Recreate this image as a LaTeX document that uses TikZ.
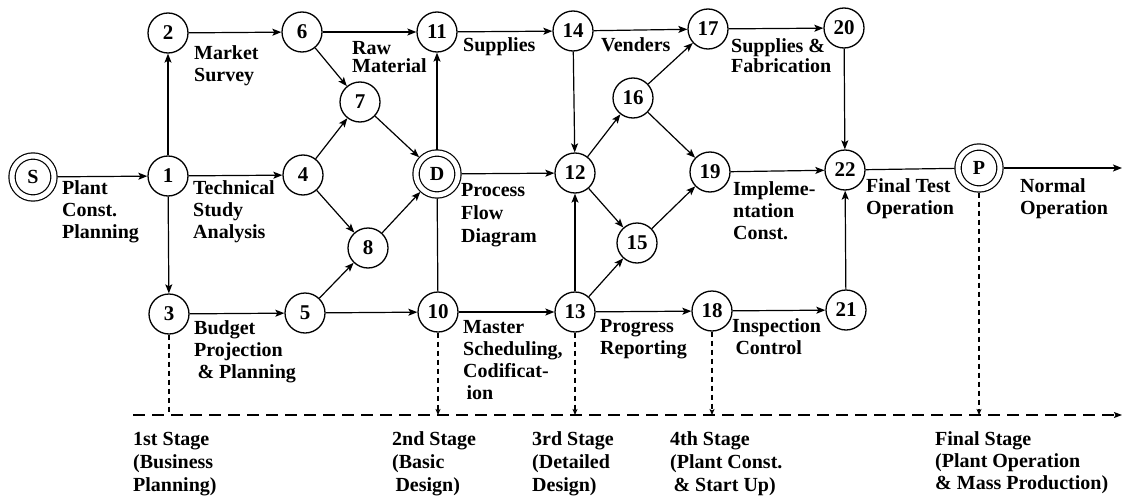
\documentclass[tikz,border=0pt]{standalone}
\usepackage{fontspec}
\setmainfont{Liberation Serif}
\usetikzlibrary{arrows.meta}
\newcommand{\topstrut}{\rule{0pt}{15pt}}
\begin{document}
\begin{tikzpicture}[x=1pt,y=-1pt,
  every node/.style={font=\fontsize{20}{22}\selectfont\bfseries},
  ev/.style={circle,draw,line width=1.3pt,minimum size=40pt,inner sep=0pt,font=\fontsize{21}{22}\selectfont\bfseries},
  dbl/.style={circle,draw,line width=1.2pt,double,double distance=5pt,minimum size=42pt,inner sep=0pt,outer sep=3.5pt},
  lbl/.style={anchor=north west,inner sep=0pt,align=left},
  tight/.style={font=\fontsize{20}{18}\selectfont\bfseries},
  mid/.style={font=\fontsize{20}{20}\selectfont\bfseries},
  wide/.style={font=\fontsize{20}{23}\selectfont\bfseries},
  ar/.style={line width=1.2pt,-{Stealth[length=9pt,width=7pt,inset=2pt]}},
  ln/.style={line width=1.2pt},
  vd/.style={line width=1.1pt,dash pattern=on 5pt off 4pt,-{Stealth[length=6pt,width=5pt,inset=1.5pt]}},
  vdn/.style={line width=1.1pt,dash pattern=on 5pt off 4pt},
  hd/.style={line width=1.1pt,dash pattern=on 12pt off 7pt,-{Stealth[length=8pt,width=6pt,inset=1.5pt]}}
]
\useasboundingbox (0,0) rectangle (1134,495);

% events
\node[dbl] (S) at (33,177) {S};
\node[ev] (n1) at (168,176) {1};
\node[ev] (n2) at (168,33) {2};
\node[ev] (n3) at (169,314) {3};
\node[ev] (n4) at (303,175) {4};
\node[ev] (n5) at (305,313) {5};
\node[ev] (n6) at (302,32) {6};
\node[ev] (n7) at (360,102) {7};
\node[ev] (n8) at (368,248) {8};
\node[dbl] (D) at (437,174) {D};
\node[ev] (n11) at (437,32) {11};
\node[ev] (n10) at (438,312) {10};
\node[ev] (n14) at (573,31) {14};
\node[ev] (n12) at (575,173) {12};
\node[ev] (n13) at (575,312) {13};
\node[ev] (n16) at (633,98) {16};
\node[ev] (n15) at (637,243) {15};
\node[ev] (n17) at (708,29) {17};
\node[ev] (n19) at (710,172) {19};
\node[ev] (n18) at (712,311) {18};
\node[ev] (n20) at (844,28) {20};
\node[ev] (n22) at (845,170) {22};
\node[ev] (n21) at (846,310) {21};
\node[dbl] (P) at (979,168) {P};
\coordinate (pend) at (1122,168);

% activities
\draw[ar] (S) -- (n1);
\draw[ar] (n1) -- (n2);
\draw[ar] (n1) -- (n3);
\draw[ar] (n1) -- (n4);
\draw[ar] (n2) -- (n6);
\draw[ar] (n6) -- (n11);
\draw[ar] (n6) -- (n7);
\draw[ar] (n4) -- (n7);
\draw[ar] (n4) -- (n8);
\draw[ar] (n3) -- (n5);
\draw[ar] (n5) -- (n8);
\draw[ar] (n5) -- (n10);
\draw[ar] (n7) -- (D);
\draw[ar] (n8) -- (D);
\draw[ar] (D) -- (n11);
\draw[ln] (D) -- (n10);
\draw[ar] (D) -- (n12);
\draw[ar] (n11) -- (n14);
\draw[ar] (n14) -- (n12);
\draw[ar] (n13) -- (n12);
\draw[ar] (n10) -- (n13);
\draw[ar] (n12) -- (n16);
\draw[ar] (n12) -- (n15);
\draw[ar] (n13) -- (n15);
\draw[ar] (n14) -- (n17);
\draw[ar] (n16) -- (n17);
\draw[ar] (n16) -- (n19);
\draw[ar] (n15) -- (n19);
\draw[ar] (n13) -- (n18);
\draw[ar] (n17) -- (n20);
\draw[ar] (n20) -- (n22);
\draw[ar] (n19) -- (n22);
\draw[ar] (n18) -- (n21);
\draw[ar] (n21) -- (n22);
\draw[ln] (n22) -- (P);
\draw[ar] (P) -- (pend);

% stage line
\coordinate (hl0) at (133,415);
\coordinate (hl1) at (1122,415);
\draw[hd] (hl0) -- (hl1);
\draw[vdn] (n3) -- (n3 |- hl0);
\draw[vd] (n10) -- (n10 |- hl0);
\draw[vd] (n13) -- (n13 |- hl0);
\draw[vd] (n18) -- (n18 |- hl0);
\draw[vd] (P) -- (P |- hl0);

% activity labels
\node[lbl] (tPlant) at (62,179) {\topstrut Plant\\Const.\\Planning};
\node[lbl] (tMarket) at (194,44) {\topstrut Market\\Survey};
\node[lbl] (tTech) at (193,179) {\topstrut Technical\\Study\\Analysis};
\node[lbl,tight] (tRaw) at (352,39) {\topstrut Raw\\Material};
\node[lbl] (tSupp) at (463,36) {\topstrut Supplies};
\node[lbl] (tVend) at (601,36) {\topstrut Venders};
\node[lbl,mid] (tFab) at (731,37) {\topstrut Supplies \&\\Fabrication};
\node[lbl,wide] (tProc) at (461,181) {\topstrut Process\\Flow\\Diagram};
\node[lbl] (tImpl) at (733,180) {\topstrut Impleme-\\ntation\\Const.};
\node[lbl] (tFinal) at (866,177) {\topstrut Final Test\\Operation};
\node[lbl] (tNormal) at (1020,177) {\topstrut Normal\\Operation};
\node[lbl] (tBudget) at (194,319) {\topstrut Budget\\Projection\\\,\& Planning};
\node[lbl] (tMaster) at (463,318) {\topstrut Master\\Scheduling,\\Codificat-\\\,ion};
\node[lbl] (tProg) at (600,317) {\topstrut Progress\\Reporting};
\node[lbl] (tInsp) at (732,317) {\topstrut Inspection\\\,Control};

% stage labels
\node[lbl,wide] (st1) at (133,430) {\topstrut 1st Stage\\(Business\\Planning)};
\node[lbl,wide] (st2) at (392,430) {\topstrut 2nd Stage\\(Basic\\\,Design)};
\node[lbl,wide] (st3) at (532,430) {\topstrut 3rd Stage\\(Detailed\\Design)};
\node[lbl,wide] (st4) at (670,430) {\topstrut 4th Stage\\(Plant Const.\\\,\& Start Up)};
\node[lbl] (st5) at (935,430) {\topstrut Final Stage\\(Plant Operation\\\& Mass Production)};
\end{tikzpicture}
\end{document}
